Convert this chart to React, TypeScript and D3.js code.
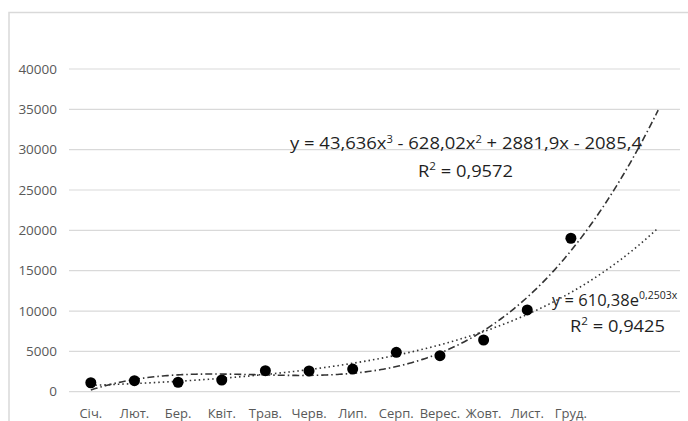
import React from "react";
import * as d3 from "d3";

const W = 688;
const H = 421;

// monthly values
const months = ["Січ.", "Лют.", "Бер.", "Квіт.", "Трав.", "Черв.", "Лип.", "Серп.", "Верес.", "Жовт.", "Лист.", "Груд."];
const values = [1110, 1360, 1170, 1450, 2600, 2570, 2810, 4880, 4460, 6410, 10130, 19020];
const yTicks = [0, 5000, 10000, 15000, 20000, 25000, 30000, 35000, 40000];

// trendlines as printed on the chart (forecast 2 periods forward)
const polyCoef = [-2085.4, 2881.9, -628.02, 43.636];
const expCoef = [610.38, 0.2503];
const trendEnd = 14;

const FONT = "'Open Sans', 'Liberation Sans', Arial, sans-serif";

const App = () => {
  const x = d3.scaleLinear().domain([0.5, 14.5]).range([69, 680]);
  const y = d3.scaleLinear().domain([0, 40000]).range([391.7, 69]);

  const steps = d3.range(1, trendEnd + 0.001, 0.05);
  const poly = (t: number) => polyCoef.reduce((s, c, i) => s + c * Math.pow(t, i), 0);
  const expo = (t: number) => expCoef[0] * Math.exp(expCoef[1] * t);

  const line = d3
    .line<number>()
    .x((t) => x(t))
    .y((t) => y(poly(t)));
  const lineExp = d3
    .line<number>()
    .x((t) => x(t))
    .y((t) => y(expo(t)));

  return (
    <div style={{ position: "absolute", left: 0, top: 0 }}>
      <svg width={W} height={H} style={{ display: "block", background: "#fff" }}>
        <rect x={9} y={12.5} width={W + 20} height={H + 20} fill="#fff" stroke="#d9d9d9" strokeWidth={1.5} />

        <g>
          {yTicks.map((t) => (
            <g key={t}>
              <line x1={x.range()[0]} x2={x.range()[1]} y1={y(t)} y2={y(t)} stroke="#d9d9d9" strokeWidth={1.2} />
              <text x={57} y={y(t)} dy="0.35em" textAnchor="end" fontFamily={FONT} fontSize={13.5} fill="#595959">
                {t}
              </text>
            </g>
          ))}
        </g>

        <g>
          {months.map((m, i) => (
            <text key={m} x={x(i + 1)} y={418} textAnchor="middle" fontFamily={FONT} fontSize={13} fill="#595959">
              {m}
            </text>
          ))}
        </g>

        <path d={lineExp(steps) || ""} fill="none" stroke="#333" strokeWidth={1.6} strokeDasharray="1.5,3" />
        <path d={line(steps) || ""} fill="none" stroke="#333" strokeWidth={1.6} strokeDasharray="7,3,1.5,3" />

        <g>
          {values.map((v, i) => (
            <circle key={i} cx={x(i + 1)} cy={y(v)} r={5.5} fill="#000" />
          ))}
        </g>

        <g fontFamily={FONT} fontSize={16.5} fill="#1f1f1f">
          <text x={290} y={149} textLength={352} lengthAdjust="spacingAndGlyphs">
            y = 43,636x<tspan dy={-6} fontSize={10}>3</tspan>
            <tspan dy={6}> - 628,02x</tspan>
            <tspan dy={-6} fontSize={10}>2</tspan>
            <tspan dy={6}> + 2881,9x - 2085,4</tspan>
          </text>
          <text x={418} y={177} textLength={95} lengthAdjust="spacingAndGlyphs">
            R<tspan dy={-7} fontSize={10.5}>2</tspan>
            <tspan dy={7}> = 0,9572</tspan>
          </text>
          <text x={552} y={306}>
            y = 610,38e<tspan dy={-7} fontSize={10.5}>0,2503x</tspan>
          </text>
          <text x={570} y={332} textLength={95} lengthAdjust="spacingAndGlyphs">
            R<tspan dy={-7} fontSize={10.5}>2</tspan>
            <tspan dy={7}> = 0,9425</tspan>
          </text>
        </g>
      </svg>
    </div>
  );
};

export default App;
